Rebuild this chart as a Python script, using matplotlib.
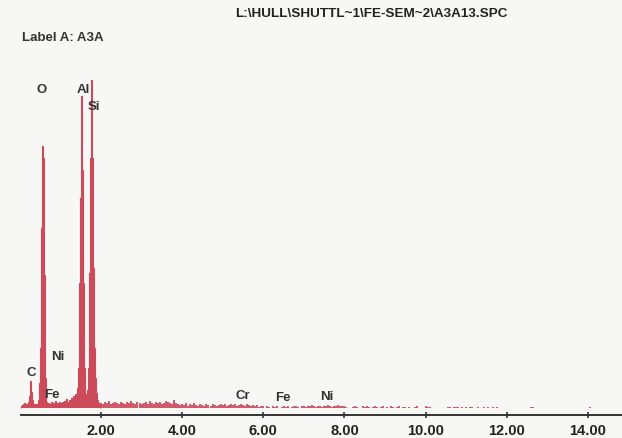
import numpy as np
import matplotlib
matplotlib.use("Agg")
import matplotlib.pyplot as plt

# EDS spectrum A3A13 - counts per channel
# low energy region: 0.025 keV channels starting at 0.05 keV
low_start = 0.05
low_step = 0.025
low_counts = [
    20, 30, 40, 50, 30, 40, 30, 60, 120, 270, 160, 80, 40, 30, 40, 30, 80,
    250, 600, 1800, 2620, 2500, 1330, 300, 60,
    40, 50, 30, 40, 60, 30, 50, 40, 70, 30,
    50, 40, 60, 50, 30, 60, 40, 70, 50, 90,
    40, 60, 80, 50, 100, 40, 120, 100, 140, 120, 200,
    400, 1250, 2100, 3120, 2380, 1250, 400, 120, 140, 180,
    400, 1350, 2500, 3280, 2500, 1400, 600, 300, 150, 80, 50, 50,
]

# background above 2 keV: 0.05 keV channels
bg_start = 2.0
bg_step = 0.05
bg_counts = [
    50, 40, 60, 50, 70, 40, 50, 60, 50, 40, 60, 50, 40, 60, 50, 70, 50, 40, 60, 50,
    40, 50, 60, 40, 70, 50, 40, 60, 50, 60, 40, 50, 70, 60, 50, 40, 80, 50, 40, 30,
    40, 30, 50, 20, 40, 30, 50, 30, 20, 40, 30, 20, 40, 30, 20, 40, 30, 20, 30, 40,
    30, 40, 20, 30, 40, 30, 40, 20, 30, 40, 30, 20, 40, 30, 20, 30, 20, 30, 10, 20,
    20, 0, 20, 10, 0, 20, 10, 20, 0, 10, 20, 10, 20, 0, 10, 20, 20, 10, 0, 20,
    20, 10, 20, 20, 30, 20, 10, 20, 20, 10, 20, 20, 30, 20, 10, 20, 20, 30, 20, 20,
    20, 10, 0, 0, 10, 20, 10, 0, 0, 20, 10, 20, 10, 0, 10, 20, 10, 0, 10, 20,
    0, 10, 0, 20, 10, 0, 10, 20, 0, 10, 10, 0, 10, 0, 0, 10, 20, 0, 0, 0,
    20, 10, 10, 0, 0, 0, 0, 0, 0, 0, 0, 10, 10, 0, 10, 10, 10, 0, 10, 0,
    10, 0, 10, 10, 0, 0, 10, 0, 0, 10, 0, 10, 0, 10, 0, 10, 0, 0, 0, 0,
    0, 0, 0, 0, 0, 0, 0, 0, 0, 0, 0, 0, 10, 10, 0, 0, 0, 0, 0, 0,
    0, 0, 0, 0, 0, 0, 0, 0, 0, 0, 0, 0, 0, 0, 0, 0, 0, 0, 0, 0,
    0, 10, 0, 0, 0, 0, 0, 0, 0, 0,
]

# element labels: (text, keV, counts)
peak_labels = [
    ("O", 0.55, 3190),
    ("Al", 1.56, 3190),
    ("Si", 1.83, 3020),
    ("C", 0.27, 360),
    ("Ni", 0.93, 520),
    ("Fe", 0.79, 140),
    ("Cr", 5.50, 130),
    ("Fe", 6.49, 110),
    ("Ni", 7.57, 120),
]

tick_vals = [2, 4, 6, 8, 10, 12, 14]
tick_text = ["2.00", "4.00", "6.00", "8.00", "10.00", "12.00", "14.00"]

title = "L:\\HULL\\SHUTTL~1\\FE-SEM~2\\A3A13.SPC"
label_a = "Label A: A3A"

red = "#cc4a5a"
ink = "#333333"
font = ["Liberation Sans", "DejaVu Sans"]

fig = plt.figure(figsize=(6.22, 4.39), dpi=100)
fig.patch.set_facecolor("#f7f7f5")
ax = fig.add_axes([21 / 622, 23 / 439, 601 / 622, 376 / 439])
ax.set_facecolor("none")

# main peaks as one filled step outline, with a thin edge so the narrow tops stay solid
low_edges = low_start - low_step / 2 + low_step * np.arange(len(low_counts) + 1)
ax.stairs(low_counts, low_edges, fill=True, color=red, linewidth=0)
ax.stairs(low_counts, low_edges, fill=False, color=red, linewidth=0.8)

# background counts as separate thin spikes
bg_e = bg_start + bg_step * np.arange(len(bg_counts))
bg_c = np.array(bg_counts)
keep = bg_c > 0
ax.vlines(bg_e[keep], 0, bg_c[keep], color=red, linewidth=1.3)

ax.set_xlim(0.0296, 14.84)
ax.set_ylim(-70, 3690)

for side in ["top", "right", "left"]:
    ax.spines[side].set_visible(False)
ax.spines["bottom"].set_color(ink)
ax.spines["bottom"].set_linewidth(1.4)
ax.set_yticks([])
ax.set_xticks(tick_vals)
ax.set_xticklabels(tick_text, fontfamily=font, fontweight="bold", fontsize=10.5, color="#222222")
ax.tick_params(axis="x", direction="inout", length=5, width=1.2, color=ink, pad=3)

for txt, e, c in peak_labels:
    ax.text(e, c, txt, ha="center", va="center", fontsize=9.5, fontweight="bold",
            color=ink, family=font)

fig.text(235 / 622, 1 - 14 / 439, title, ha="left", va="center", fontsize=9.7,
         fontweight="bold", color="#222222", family=font)
fig.text(22 / 622, 1 - 38 / 439, label_a, ha="left", va="center", fontsize=9.5,
         fontweight="bold", color=ink, family=font)

fig.savefig("out.png", dpi=100, facecolor=fig.get_facecolor())
